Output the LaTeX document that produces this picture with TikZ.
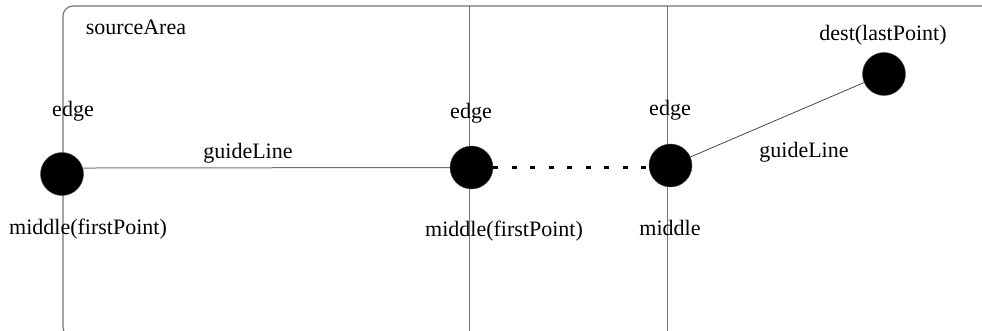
\documentclass[tikz,border=0pt]{standalone}
\usepackage{fontspec}
\setmainfont{Liberation Serif}
\begin{document}
\begin{tikzpicture}[x=1pt,y=-1pt,
  frame/.style={draw=black!55,line width=1.1pt},
  divider/.style={draw=black!55,line width=1pt},
  dot/.style={circle,fill=black,draw=black!70,inner sep=0pt,minimum size=43pt},
  lbl/.style={inner sep=0pt,font=\fontsize{22}{26}\selectfont,text=black},
  guide/.style={draw=black!55,line width=1pt},
  guidediag/.style={draw=black!80,line width=0.7pt},
  hidden/.style={draw=black,line width=3pt,dash pattern=on 5pt off 13.5pt}]
\useasboundingbox (0,0) rectangle (982,331);
\begin{scope}
\clip (0,0) rectangle (982,331);
\draw[frame,rounded corners=10pt] (1000,6) -- (63,6) -- (63,337) -- (1000,337);
\coordinate (d1t) at (469.5,6);
\coordinate (d1b) at (469.5,340);
\coordinate (d2t) at (667.5,6);
\coordinate (d2b) at (667.5,340);
\draw[divider] (d1t) -- (d1b);
\draw[divider] (d2t) -- (d2b);
\end{scope}
\node[dot] (c1) at (62,174) {};
\node[dot] (c2) at (471.5,167.5) {};
\node[dot] (c3) at (670.5,165.5) {};
\node[dot] (c4) at (884,74) {};
\draw[guide] (c1.16) -- (c2.west);
\draw[hidden] (c2.east) -- (c3.west |- c2.east);
\draw[guidediag] (c3) -- (c4);
\node[lbl] (src) at (136,27) {sourceArea};
\node[lbl] (e1) at (73,111) {edge};
\node[lbl] (e2) at (471,113) {edge};
\node[lbl] (e3) at (670,110) {edge};
\node[lbl] (g1) at (248,153) {guideLine};
\node[lbl] (g2) at (804,152) {guideLine};
\node[lbl] (m1) at (88,229) {middle(firstPoint)};
\node[lbl] (m2) at (504,231) {middle(firstPoint)};
\node[lbl] (m3) at (670,228) {middle};
\node[lbl] (dst) at (883,35) {dest(lastPoint)};
\end{tikzpicture}
\end{document}
